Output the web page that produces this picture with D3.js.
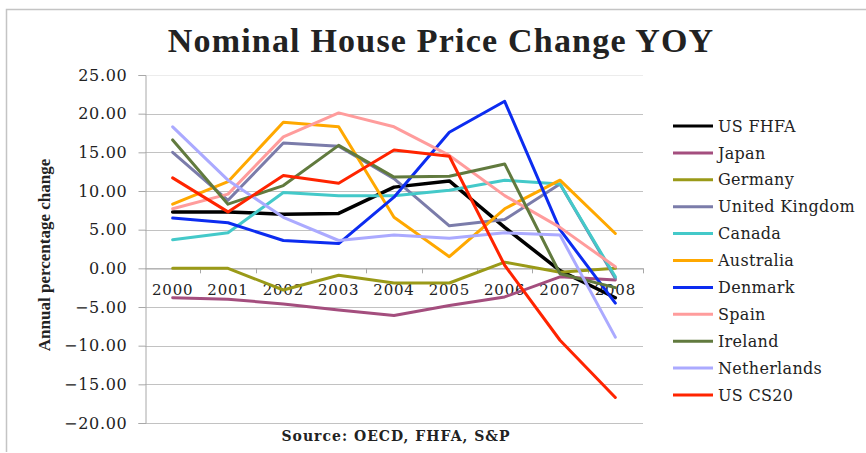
<!DOCTYPE html>
<html>
<head>
<meta charset="utf-8">
<script src="https://cdn.jsdelivr.net/npm/d3@7"></script>
<style>
  body { margin: 0; background: #fff; }
  svg { display: block; }
  text { font-family: "DejaVu Serif", serif; fill: #222; }
</style>
</head>
<body>
<svg id="chart" width="866" height="453"></svg>
<script>
// chart data
const years = ['2000', '2001', '2002', '2003', '2004', '2005', '2006', '2007', '2008'];
const yTicks = [-20, -15, -10, -5, 0, 5, 10, 15, 20, 25];

const usFhfa      = [7.3, 7.3, 7.0, 7.1, 10.5, 11.3, 5.3, -0.3, -3.8];
const japan       = [-3.8, -4.0, -4.6, -5.4, -6.1, -4.8, -3.7, -1.1, -1.5];
const germany     = [0.0, 0.0, -2.8, -0.9, -1.9, -1.9, 0.8, -0.5, 0.0];
const unitedKingdom = [15.0, 8.8, 16.2, 15.8, 11.6, 5.5, 6.3, 10.9, -1.3];
const canada      = [3.7, 4.6, 9.8, 9.4, 9.4, 10.1, 11.4, 10.9, -1.1];
const australia   = [8.3, 11.2, 18.9, 18.3, 6.6, 1.5, 7.7, 11.4, 4.5];
const denmark     = [6.5, 5.9, 3.6, 3.2, 9.2, 17.6, 21.6, 5.0, -4.5];
const spain       = [7.7, 9.6, 17.0, 20.1, 18.3, 14.6, 9.4, 5.3, 0.2];
const ireland     = [16.6, 8.3, 10.7, 15.9, 11.8, 11.9, 13.5, -0.7, -2.5];
const netherlands = [18.3, 11.4, 6.6, 3.6, 4.3, 3.9, 4.6, 4.3, -8.9];
const usCs20      = [11.7, 7.3, 12.0, 11.0, 15.3, 14.5, 0.4, -9.3, -16.7];

const seriesNames = ['US FHFA', 'Japan', 'Germany', 'United Kingdom', 'Canada', 'Australia',
                     'Denmark', 'Spain', 'Ireland', 'Netherlands', 'US CS20'];
const seriesValues = [usFhfa, japan, germany, unitedKingdom, canada, australia,
                      denmark, spain, ireland, netherlands, usCs20];
const seriesColors = ['#000000', '#a44e7e', '#9a9a18', '#7b7caa', '#44c9c9', '#ffa800',
                      '#0c2cf0', '#ff9c9c', '#617a3e', '#abaaff', '#ff2400'];

const svg = d3.select('#chart');

// outer frame
svg.append('path')
    .attr('d', 'M6.5,452 V9.5 H866')
    .attr('fill', 'none')
    .attr('stroke', '#c4c4c4')
    .attr('stroke-width', 1.5);

const plot = { left: 145, right: 643, top: 75, bottom: 423 };

const x = d3.scaleBand()
    .domain(years)
    .range([plot.left, plot.right]);

const y = d3.scaleLinear()
    .domain([-20, 25])
    .range([plot.bottom, plot.top]);

// gridlines
svg.append('g')
    .selectAll('line')
    .data(yTicks)
    .join('line')
    .attr('x1', plot.left)
    .attr('x2', plot.right)
    .attr('y1', d => Math.round(y(d)) + 0.5)
    .attr('y2', d => Math.round(y(d)) + 0.5)
    .attr('stroke', d => d === 25 ? '#ececec' : '#c2c2c2')
    .attr('stroke-width', 1);

// y axis
const yAxis = svg.append('g')
    .attr('transform', `translate(${plot.left + 0.5},0)`)
    .call(d3.axisLeft(y).tickValues(yTicks).tickSize(7).tickPadding(11)
        .tickFormat(d => d3.format('.2f')(d)));
yAxis.select('.domain').attr('stroke', '#a8a8a8');
yAxis.selectAll('.tick line').attr('stroke', '#a8a8a8');
yAxis.selectAll('.tick text')
    .style('font-family', '"DejaVu Serif", serif')
    .style('font-size', '16px')
    .style('letter-spacing', '0.7px')
    .attr('fill', '#222');

// x axis on the zero line
const xAxis = svg.append('g')
    .attr('transform', `translate(0,${Math.round(y(0)) + 0.5})`)
    .call(d3.axisBottom(x).tickSize(0).tickPadding(16));
xAxis.select('.domain').attr('stroke', '#a8a8a8');
xAxis.selectAll('.tick text')
    .style('font-family', '"DejaVu Serif", serif')
    .style('font-size', '15px')
    .style('letter-spacing', '0.8px')
    .attr('fill', '#222');

// x tick marks between categories
svg.append('g')
    .selectAll('line')
    .data(years.slice(1).concat(['end']))
    .join('line')
    .attr('x1', (d, i) => Math.round(plot.left + x.step() * (i + 1)) + 0.5)
    .attr('x2', (d, i) => Math.round(plot.left + x.step() * (i + 1)) + 0.5)
    .attr('y1', y(0))
    .attr('y2', y(0) + 5)
    .attr('stroke', '#a8a8a8');

// lines
const line = d3.line()
    .x((d, i) => x(years[i]) + x.bandwidth() / 2)
    .y(d => y(d));

svg.append('g')
    .selectAll('path')
    .data(seriesValues)
    .join('path')
    .attr('d', line)
    .attr('fill', 'none')
    .attr('stroke', (d, i) => seriesColors[i])
    .attr('stroke-width', (d, i) => i === 0 ? 3.5 : 3)
    .attr('stroke-linejoin', 'round')
    .attr('stroke-linecap', 'round');

// title
svg.append('text')
    .attr('x', 441)
    .attr('y', 52)
    .attr('text-anchor', 'middle')
    .style('font-family', '"Liberation Serif", serif')
    .style('font-weight', 'bold')
    .style('font-size', '34px')
    .style('letter-spacing', '1.2px')
    .attr('fill', '#111')
    .text('Nominal House Price Change YOY');

// y axis title
svg.append('text')
    .attr('transform', 'translate(50,255) rotate(-90)')
    .attr('text-anchor', 'middle')
    .style('font-family', '"Liberation Serif", serif')
    .style('font-weight', 'bold')
    .style('font-size', '17px')
    .attr('fill', '#111')
    .text('Annual percentage change');

// source note
svg.append('text')
    .attr('x', 396)
    .attr('y', 441)
    .attr('text-anchor', 'middle')
    .style('font-family', '"DejaVu Serif", serif')
    .style('font-weight', 'bold')
    .style('font-size', '14px')
    .style('letter-spacing', '1px')
    .attr('fill', '#111')
    .text('Source: OECD, FHFA, S&P');

// legend
const legend = svg.append('g')
    .selectAll('g')
    .data(seriesNames)
    .join('g')
    .attr('transform', (d, i) => `translate(673,${126 + i * 26.9})`);

legend.append('line')
    .attr('x1', 0)
    .attr('x2', 40)
    .attr('stroke', (d, i) => seriesColors[i])
    .attr('stroke-width', 3);

legend.append('text')
    .attr('x', 45)
    .attr('dy', '0.35em')
    .style('font-size', '16px')
    .style('letter-spacing', '0.3px')
    .attr('fill', '#222')
    .text(d => d);
</script>
</body>
</html>
